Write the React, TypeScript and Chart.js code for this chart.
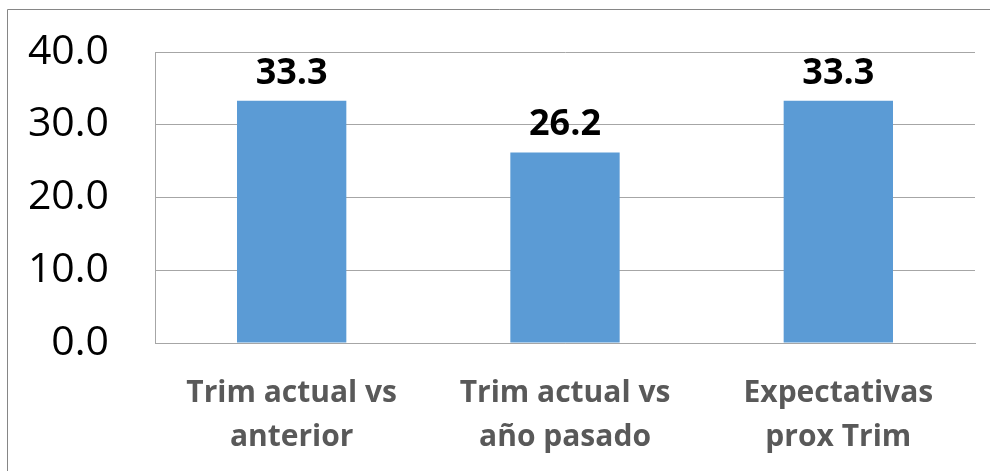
import React, { useEffect, useRef } from "react";
import { Chart, registerables } from "chart.js";

Chart.register(...registerables);

const categories: string[][] = [
  ["Trim actual vs", "anterior"],
  ["Trim actual vs", "año pasado"],
  ["Expectativas", "prox Trim"],
];
const values: number[] = [33.3, 26.2, 33.3];
const yMin = 0;
const yMax = 40;
const yStep = 10;

const FONT = "'Open Sans', 'Liberation Sans', sans-serif";

const frame = {
  id: "frame",
  beforeDraw(chart: any) {
    const ctx = chart.ctx;
    ctx.save();
    ctx.fillStyle = "#ffffff";
    ctx.fillRect(0, 0, chart.width, chart.height);
    ctx.strokeStyle = "#868686";
    ctx.lineWidth = 1;
    ctx.beginPath();
    ctx.moveTo(7.5, chart.height + 2);
    ctx.lineTo(7.5, 9.5);
    ctx.lineTo(chart.width + 2, 9.5);
    ctx.stroke();
    ctx.restore();
  },
};

const valueLabels = {
  id: "valueLabels",
  afterDatasetsDraw(chart: any) {
    const ctx = chart.ctx;
    const meta = chart.getDatasetMeta(0);
    ctx.save();
    ctx.font = `bold 36px ${FONT}`;
    ctx.fillStyle = "#000000";
    ctx.textAlign = "center";
    ctx.textBaseline = "alphabetic";
    meta.data.forEach((bar: any, i: number) => {
      ctx.fillText(values[i].toFixed(1), bar.x, bar.y - 17);
    });
    ctx.restore();
  },
};

export default function App() {
  const ref = useRef<HTMLCanvasElement>(null);
  useEffect(() => {
    document.body.style.margin = "0";
    const chart = new Chart(ref.current!, {
      type: "bar",
      data: {
        labels: categories,
        datasets: [
          {
            data: values,
            backgroundColor: "#5B9BD5",
            borderWidth: 0,
            barPercentage: 0.4,
            categoryPercentage: 1,
          },
        ],
      },
      options: {
        animation: false,
        responsive: false,
        maintainAspectRatio: false,
        layout: { padding: { top: 52, right: 15, bottom: 0, left: 0 } },
        plugins: {
          legend: { display: false },
          tooltip: { enabled: false },
        },
        scales: {
          x: {
            grid: { display: false, drawTicks: false },
            border: { display: true, color: "#A6A6A6", width: 1 },
            ticks: {
              color: "#595959",
              font: { family: FONT, size: 30, weight: "bold", lineHeight: 1.47 },
              padding: 28,
              maxRotation: 0,
              autoSkip: false,
            },
            afterFit(scale: any) {
              scale.height = 128;
              scale.paddingLeft = 0;
              scale.paddingRight = 0;
            },
          },
          y: {
            min: yMin,
            max: yMax,
            grid: { color: "#A6A6A6", lineWidth: 1, drawTicks: false },
            border: { display: true, color: "#A6A6A6", width: 1 },
            ticks: {
              stepSize: yStep,
              color: "#000000",
              font: { family: FONT, size: 41 },
              padding: 46,
              callback: (v: any) => Number(v).toFixed(1),
            },
            afterFit(scale: any) {
              scale.width = 155;
              scale.paddingTop = 0;
              scale.paddingBottom = 0;
            },
          },
        },
      },
      plugins: [frame, valueLabels],
    });
    return () => chart.destroy();
  }, []);
  return (
    <div style={{ width: 990, height: 471 }}>
      <canvas ref={ref} width={990} height={471} style={{ display: "block" }} />
    </div>
  );
}
